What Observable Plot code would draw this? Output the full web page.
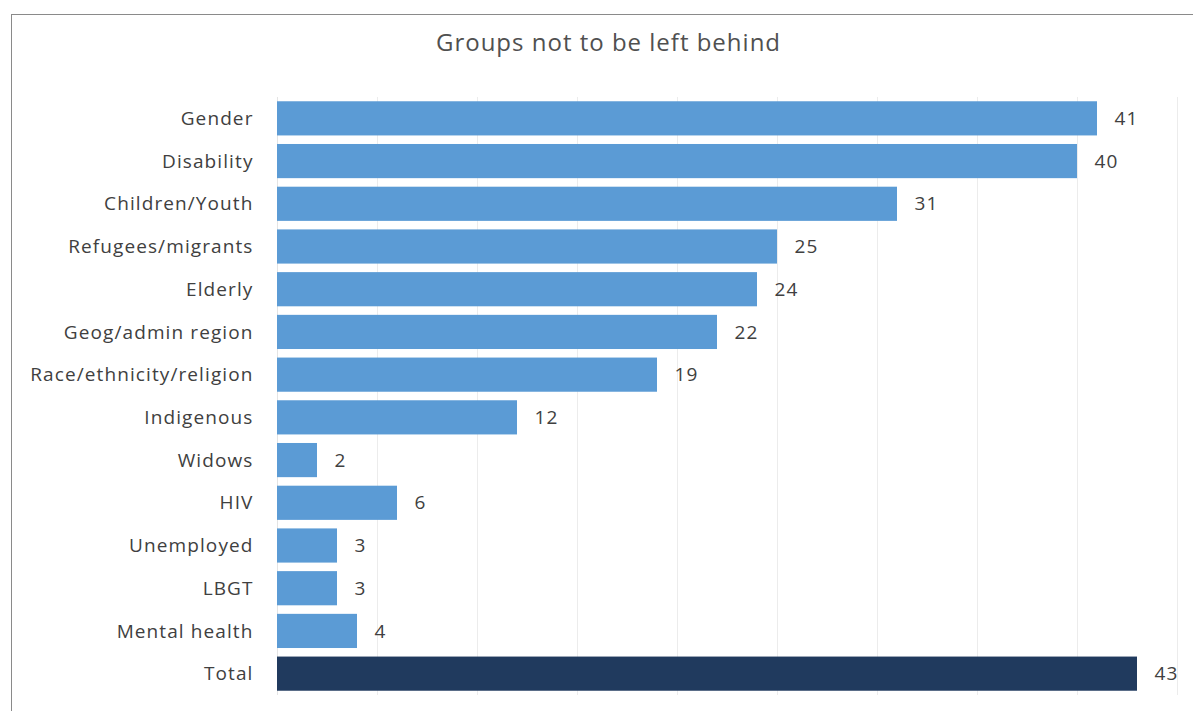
<!DOCTYPE html>
<html>
<head>
<meta charset="utf-8">
<script src="https://cdn.jsdelivr.net/npm/d3@7"></script>
<script src="https://cdn.jsdelivr.net/npm/@observablehq/plot@0.6"></script>
<style>
  html, body { margin: 0; padding: 0; background: #fff; width: 1193px; height: 711px; overflow: hidden; }
  #frame { position: absolute; left: 11px; top: 14px; width: 1200px; height: 720px; border-left: 1.5px solid #8a8a8a; border-top: 1.5px solid #8a8a8a; }
  #title { position: absolute; left: 0; top: 25px; width: 1217px; text-align: center; font-family: "Open Sans", sans-serif; font-size: 24px; letter-spacing: 1px; color: #505050; }
  #chart { position: absolute; left: 0; top: 0; }
</style>
</head>
<body>
<div id="frame"></div>
<div id="title">Groups not to be left behind</div>
<div id="chart"></div>
<script>
const categories = ["Gender", "Disability", "Children/Youth", "Refugees/migrants", "Elderly", "Geog/admin region", "Race/ethnicity/religion", "Indigenous", "Widows", "HIV", "Unemployed", "LBGT", "Mental health", "Total"];
const values = [41, 40, 31, 25, 24, 22, 19, 12, 2, 6, 3, 3, 4, 43];
const xTicks = [0, 5, 10, 15, 20, 25, 30, 35, 40, 45];

const data = categories.map((c, i) => ({group: c, value: values[i], total: c === "Total"}));

const chart = Plot.plot({
  width: 1193,
  height: 711,
  marginLeft: 277,
  marginRight: 16,
  marginTop: 97,
  marginBottom: 16,
  style: {fontFamily: "Open Sans, sans-serif", fontSize: "19px", letterSpacing: "1.1px", color: "#404040", background: "transparent"},
  x: {domain: [0, 45], axis: null},
  y: {domain: categories, paddingInner: 0.2, paddingOuter: 0.1, round: false, label: null},
  marks: [
    Plot.gridX(xTicks.slice(1), {stroke: "#d9d9d9", strokeOpacity: 0.5, strokeWidth: 1}),
    Plot.ruleX([0], {stroke: "#d9d9d9", strokeOpacity: 0.7}),
    Plot.barX(data, {x: "value", y: "group", fill: d => d.total ? "#203A5E" : "#5B9BD5"}),
    Plot.text(data, {x: "value", y: "group", text: d => String(d.value), textAnchor: "start", dx: 17, fill: "#404040", fontSize: 19}),
    Plot.axisY({tickSize: 0, tickPadding: 24, fontSize: 19, label: null, fill: "#404040"})
  ]
});
document.getElementById("chart").appendChild(chart);
</script>
</body>
</html>
